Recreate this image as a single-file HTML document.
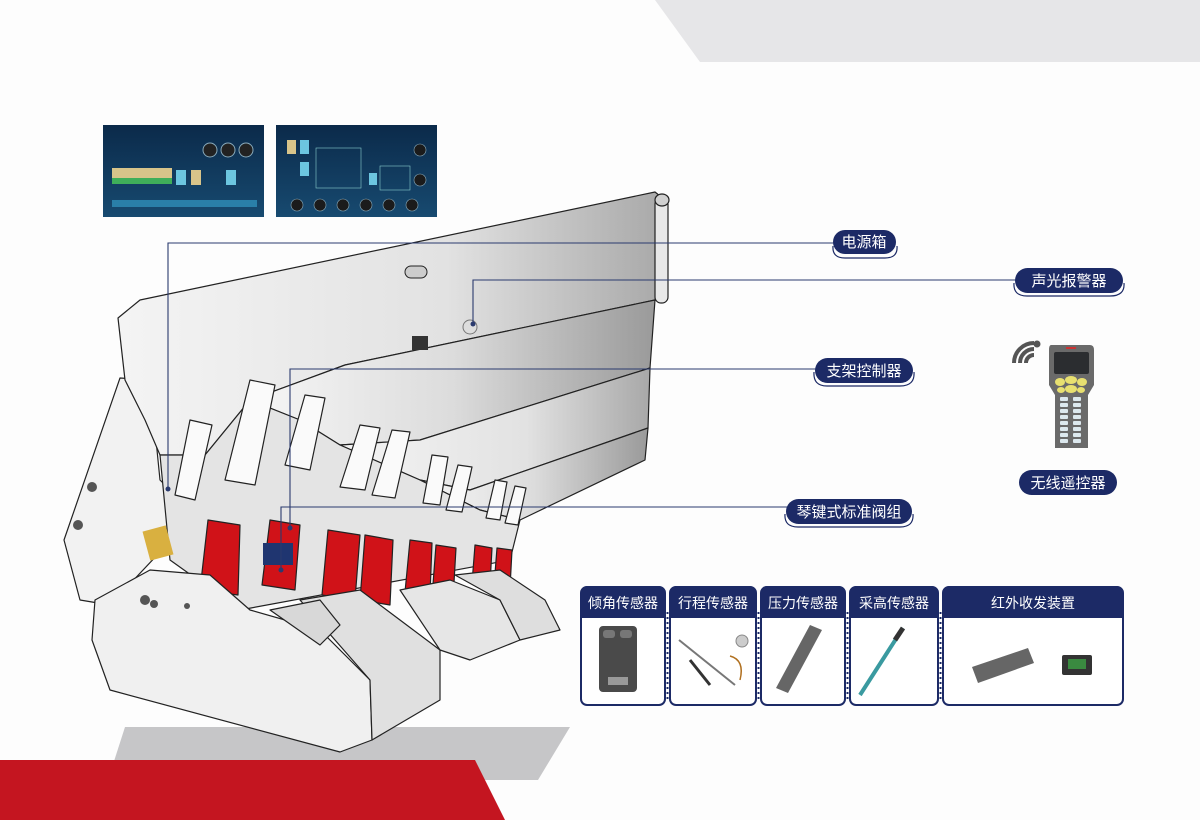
<!DOCTYPE html>
<html><head><meta charset="utf-8"><style>
html,body{margin:0;padding:0;background:#fdfdfd;}
svg{display:block}
text{font-family:"Liberation Sans","Noto Sans CJK SC",sans-serif;}
</style></head><body>
<svg width="1200" height="820" viewBox="0 0 1200 820" xmlns="http://www.w3.org/2000/svg">
<defs>
<linearGradient id="pl" x1="0" y1="0" x2="1" y2="0">
<stop offset="0" stop-color="#f4f4f4"/><stop offset="0.6" stop-color="#e2e2e2"/><stop offset="1" stop-color="#a8a8a8"/></linearGradient>
<linearGradient id="pl2" x1="0" y1="0" x2="1" y2="0">
<stop offset="0" stop-color="#f6f6f6"/><stop offset="0.5" stop-color="#dcdcdc"/><stop offset="1" stop-color="#9a9a9a"/></linearGradient>
<linearGradient id="scr" x1="0" y1="0" x2="0" y2="1">
<stop offset="0" stop-color="#0b2a4a"/><stop offset="1" stop-color="#174a70"/></linearGradient>
</defs>
<rect width="1200" height="820" fill="#fdfdfd"/>
<polygon points="655,0 1200,0 1200,62 700,62" fill="#e6e6e8"/>
<polygon points="125,727 570,727 538,780 108,780" fill="#c6c6c8"/>
<polygon points="0,760 475,760 505,820 0,820" fill="#c41520"/>

<!-- screens -->
<rect x="103" y="125" width="161" height="92" fill="url(#scr)"/>
<rect x="112" y="168" width="60" height="16" fill="#d8c48a"/>
<rect x="112" y="178" width="60" height="6" fill="#3fae5a"/>
<rect x="112" y="200" width="145" height="7" fill="#2a7fa8"/>
<circle cx="210" cy="150" r="7" fill="#222" stroke="#8ab" /><circle cx="228" cy="150" r="7" fill="#222" stroke="#8ab"/><circle cx="246" cy="150" r="7" fill="#222" stroke="#8ab"/>
<rect x="176" y="170" width="10" height="15" fill="#6cc6e0"/><rect x="191" y="170" width="10" height="15" fill="#d8c48a"/><rect x="226" y="170" width="10" height="15" fill="#6cc6e0"/>
<rect x="276" y="125" width="161" height="92" fill="url(#scr)"/>
<rect x="287" y="140" width="9" height="14" fill="#d8c48a"/><rect x="300" y="140" width="9" height="14" fill="#6cc6e0"/>
<rect x="300" y="162" width="9" height="14" fill="#6cc6e0"/><rect x="369" y="173" width="8" height="12" fill="#6cc6e0"/>
<rect x="316" y="148" width="45" height="40" fill="none" stroke="#8cc" stroke-width="0.6"/>
<rect x="380" y="166" width="30" height="24" fill="none" stroke="#8cc" stroke-width="0.6"/>
<g fill="#1b1b1b" stroke="#8ab" stroke-width="0.6"><circle cx="297" cy="205" r="6"/><circle cx="320" cy="205" r="6"/><circle cx="343" cy="205" r="6"/><circle cx="366" cy="205" r="6"/><circle cx="389" cy="205" r="6"/><circle cx="412" cy="205" r="6"/><circle cx="420" cy="150" r="6"/><circle cx="420" cy="180" r="6"/></g>

<!-- support structure -->
<g stroke="#222" stroke-width="1.2" stroke-linejoin="round">
<!-- left caving shield -->
<polygon points="64,540 120,378 150,380 160,480 195,515 110,605 80,600" fill="#f2f2f2"/>
<!-- canopy top -->
<polygon points="118,318 140,300 655,192 665,200 655,300 345,365 250,400 205,455 160,455 145,420 125,380" fill="url(#pl)"/>
<!-- second layer -->
<polygon points="250,400 345,365 655,300 650,368 420,440 340,445 300,420" fill="url(#pl2)"/>
<!-- third layer -->
<polygon points="340,445 420,440 650,368 648,428 470,490 420,480" fill="url(#pl)"/>
<!-- fourth -->
<polygon points="420,480 470,490 648,428 645,460 520,520 480,510" fill="url(#pl2)"/>
<!-- rod at end -->
<rect x="655" y="198" width="13" height="105" rx="6" fill="#e8e8e8"/>
<ellipse cx="662" cy="200" rx="7" ry="6" fill="#d0d0d0"/>
<!-- inner shadow area -->
<polygon points="160,455 205,455 250,400 300,420 340,445 420,480 480,510 520,520 510,560 240,610 170,560" fill="#e4e4e4"/>
<!-- cylinders white rods -->
<g fill="#fafafa">
<polygon points="250,380 275,385 255,485 225,480"/>
<polygon points="305,395 325,398 310,470 285,465"/>
<polygon points="360,425 380,428 365,490 340,487"/>
<polygon points="392,430 410,432 395,498 372,495"/>
<polygon points="432,455 448,457 440,505 423,503"/>
<polygon points="458,465 472,467 462,512 446,510"/>
<polygon points="495,480 507,482 500,520 486,518"/>
<polygon points="515,486 526,488 518,525 505,523"/>
<polygon points="190,420 212,425 195,500 175,495"/>
</g>
<!-- red bodies -->
<g fill="#d01218">
<path d="M208,520 L240,525 L238,595 L200,590 Z"/>
<path d="M270,520 L300,525 L295,590 L262,585 Z"/>
<path d="M328,530 L360,535 L355,600 L322,595 Z"/>
<path d="M365,535 L393,540 L390,605 L360,600 Z"/>
<path d="M410,540 L432,543 L430,595 L405,592 Z"/>
<path d="M436,545 L456,548 L453,600 L432,597 Z"/>
<path d="M475,545 L492,548 L490,585 L472,583 Z"/>
<path d="M497,548 L512,550 L510,588 L494,586 Z"/>
</g>
<!-- base -->
<polygon points="95,600 150,570 210,575 250,610 320,630 370,680 372,740 340,752 110,690 92,640" fill="#f0f0f0"/>
<polygon points="300,600 360,590 400,620 440,650 440,700 372,740 370,680" fill="#e0e0e0"/>
<polygon points="400,590 450,580 500,600 520,640 470,660 440,650" fill="#e6e6e6"/>
<polygon points="455,575 500,570 545,600 560,630 520,640 500,600" fill="#dedede"/>
<polygon points="270,610 320,600 340,625 320,645" fill="#d8d8d8"/>
</g>
<rect x="263" y="543" width="30" height="22" fill="#1f3570"/>
<rect x="146" y="528" width="24" height="30" fill="#d9b040" transform="rotate(-15 158 543)"/>
<rect x="405" y="266" width="22" height="12" rx="6" fill="#ccc" stroke="#222"/>
<rect x="412" y="336" width="16" height="14" fill="#333"/>
<circle cx="470" cy="327" r="7" fill="#ddd" stroke="#777"/>
<g fill="#555"><circle cx="92" cy="487" r="5"/><circle cx="78" cy="525" r="5"/><circle cx="145" cy="600" r="5"/><circle cx="154" cy="604" r="4"/><circle cx="187" cy="606" r="3"/></g>

<!-- connector lines -->
<g fill="none" stroke="#2a3a6e" stroke-width="1.1">
<polyline points="168,490 168,243 835,243"/>
<polyline points="473,325 473,280 1018,280"/>
<polyline points="290,530 290,369 818,369"/>
<polyline points="281,570 281,507 790,507"/>
</g>
<g fill="#2a3a6e"><circle cx="168" cy="489" r="2.5"/><circle cx="473" cy="324" r="2.5"/><circle cx="290" cy="528" r="2.5"/><circle cx="281" cy="570" r="2.5"/></g>

<!-- labels -->
<g fill="#1c2a66">
<rect x="833" y="230" width="63" height="24" rx="12"/>
<rect x="1015" y="268" width="108" height="25" rx="12.5"/>
<rect x="815" y="358" width="98" height="25" rx="12.5"/>
<rect x="786" y="499" width="126" height="25" rx="12.5"/>
<rect x="1019" y="470" width="98" height="25" rx="12.5"/>
</g>
<g fill="none" stroke="#1c2a66" stroke-width="1.2">
<path d="M833,246 Q832,258 845,258 L885,258 Q898,258 897,246"/>
<path d="M1014,283 Q1013,296 1027,296 L1110,296 Q1125,296 1124,283"/>
<path d="M814,372 Q813,386 827,386 L900,386 Q915,386 914,372"/>
<path d="M785,514 Q784,527 798,527 L900,527 Q914,527 913,514"/>
</g>
<g fill="#fff" font-size="15" text-anchor="middle">
<text x="864" y="247">电源箱</text>
<text x="1069" y="286">声光报警器</text>
<text x="864" y="376">支架控制器</text>
<text x="849" y="517">琴键式标准阀组</text>
<text x="1068" y="488">无线遥控器</text>
</g>

<!-- remote -->
<g fill="none" stroke="#555" stroke-width="4" stroke-linecap="butt">
<path d="M1034,355 A8,8 0 0 0 1026,363"/>
<path d="M1034,349 A14,14 0 0 0 1020,363"/>
<path d="M1034,343 A20,20 0 0 0 1014,363"/>
</g>
<circle cx="1037" cy="344" r="3.5" fill="#555"/>
<path d="M1051,345 L1090,345 Q1094,345 1094,350 L1094,385 L1088,395 L1088,448 L1055,448 L1055,395 L1049,385 L1049,350 Q1049,345 1051,345 Z" fill="#6a6a6a"/>
<rect x="1054" y="352" width="35" height="22" rx="2" fill="#2b2d30"/>
<rect x="1066" y="347" width="10" height="2" fill="#c33"/>
<g fill="#e8e070"><ellipse cx="1071" cy="380" rx="6" ry="4"/><ellipse cx="1071" cy="389" rx="6" ry="4"/><ellipse cx="1060" cy="382" rx="5" ry="4"/><ellipse cx="1082" cy="382" rx="5" ry="4"/><ellipse cx="1061" cy="390" rx="4" ry="3"/><ellipse cx="1081" cy="390" rx="4" ry="3"/></g>
<g fill="#dce8ee">
<rect x="1060" y="397" width="8" height="4" rx="1"/><rect x="1073" y="397" width="8" height="4" rx="1"/>
<rect x="1060" y="403" width="8" height="4" rx="1"/><rect x="1073" y="403" width="8" height="4" rx="1"/>
<rect x="1060" y="409" width="8" height="4" rx="1"/><rect x="1073" y="409" width="8" height="4" rx="1"/>
<rect x="1060" y="415" width="8" height="4" rx="1"/><rect x="1073" y="415" width="8" height="4" rx="1"/>
<rect x="1060" y="421" width="8" height="4" rx="1"/><rect x="1073" y="421" width="8" height="4" rx="1"/>
<rect x="1060" y="427" width="8" height="4" rx="1"/><rect x="1073" y="427" width="8" height="4" rx="1"/>
<rect x="1060" y="433" width="8" height="4" rx="1"/><rect x="1073" y="433" width="8" height="4" rx="1"/>
<rect x="1060" y="439" width="8" height="4" rx="1"/><rect x="1073" y="439" width="8" height="4" rx="1"/>
</g>

<!-- sensor panel -->
<g stroke="#1c2a66" stroke-width="2" fill="#fff">
<rect x="581" y="587" width="84" height="118" rx="6"/>
<rect x="670" y="587" width="86" height="118" rx="6"/>
<rect x="761" y="587" width="84" height="118" rx="6"/>
<rect x="850" y="587" width="88" height="118" rx="6"/>
<rect x="943" y="587" width="180" height="118" rx="6"/>
</g>
<g fill="#1c2a66">
<path d="M581,618 L581,593 Q581,586 588,586 L658,586 Q665,586 665,593 L665,618 Z"/>
<path d="M670,618 L670,593 Q670,586 677,586 L749,586 Q756,586 756,593 L756,618 Z"/>
<path d="M761,618 L761,593 Q761,586 768,586 L838,586 Q845,586 845,593 L845,618 Z"/>
<path d="M850,618 L850,593 Q850,586 857,586 L931,586 Q938,586 938,593 L938,618 Z"/>
<path d="M943,618 L943,593 Q943,586 950,586 L1116,586 Q1123,586 1123,593 L1123,618 Z"/>
</g>
<g stroke="#1c2a66" stroke-width="2" stroke-dasharray="2,3">
<line x1="667.5" y1="612" x2="667.5" y2="700"/><line x1="758.5" y1="612" x2="758.5" y2="700"/>
<line x1="847.5" y1="612" x2="847.5" y2="700"/><line x1="940.5" y1="612" x2="940.5" y2="700"/>
</g>
<g fill="#fff" font-size="14" text-anchor="middle">
<text x="623" y="608">倾角传感器</text>
<text x="713" y="608">行程传感器</text>
<text x="803" y="608">压力传感器</text>
<text x="894" y="608">采高传感器</text>
<text x="1033" y="608">红外收发装置</text>
</g>
<!-- sensor images -->
<rect x="599" y="626" width="38" height="66" rx="4" fill="#4a4a4a"/>
<rect x="603" y="630" width="12" height="8" rx="3" fill="#777"/><rect x="620" y="630" width="12" height="8" rx="3" fill="#777"/>
<rect x="608" y="677" width="20" height="8" fill="#999"/>
<line x1="679" y1="640" x2="735" y2="685" stroke="#777" stroke-width="2"/>
<line x1="690" y1="660" x2="710" y2="685" stroke="#333" stroke-width="3"/>
<circle cx="742" cy="641" r="6" fill="#ccc" stroke="#888"/>
<path d="M730,656 Q745,660 740,680" stroke="#b07020" fill="none" stroke-width="1.5"/>
<polygon points="810,625 822,630 788,693 776,688" fill="#666"/>
<line x1="903" y1="628" x2="860" y2="695" stroke="#3a9aa0" stroke-width="4"/>
<line x1="903" y1="628" x2="895" y2="640" stroke="#333" stroke-width="5"/>
<polygon points="972,667 1028,648 1034,663 978,683" fill="#666"/>
<rect x="1062" y="655" width="30" height="20" rx="2" fill="#333"/><rect x="1068" y="659" width="18" height="10" fill="#3a8a40"/>
</svg>
</body></html>
